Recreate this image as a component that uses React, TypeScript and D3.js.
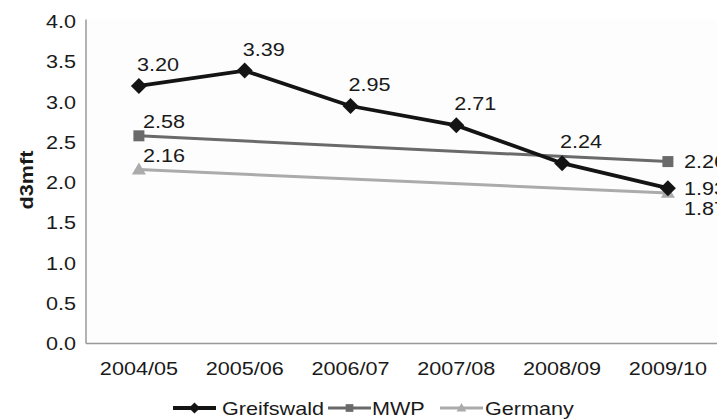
import React from "react";
import * as d3 from "d3";

const categories = ["2004/05", "2005/06", "2006/07", "2007/08", "2008/09", "2009/10"];
const greifswald = [3.2, 3.39, 2.95, 2.71, 2.24, 1.93];
const mwp = [2.58, null, null, null, null, 2.26];
const germany = [2.16, null, null, null, null, 1.87];
const yTicks = [0, 0.5, 1, 1.5, 2, 2.5, 3, 3.5, 4];
const seriesNames = ["Greifswald", "MWP", "Germany"];

const W = 717, H = 420;
const FONT = "'Liberation Sans', Arial, Helvetica, sans-serif";
const SX = 1.2;
const FS = 18;

function T({ x, y, anchor = "start", children, bold = false, rotate = 0 }: any) {
  const tr = rotate ? `translate(${x},${y}) rotate(${rotate}) scale(${SX},1)` : `translate(${x},${y}) scale(${SX},1)`;
  return (
    <text transform={tr} textAnchor={anchor} fontFamily={FONT} fontSize={FS} fontWeight={bold ? "bold" : "normal"} fill="#1a1a1a">
      {children}
    </text>
  );
}

function Marker({ kind, x, y, color, k = 1 }: any) {
  if (kind === "diamond") {
    const s = 8 * k;
    return <path d={`M${x},${y - s}L${x + s},${y}L${x},${y + s}L${x - s},${y}Z`} fill={color} />;
  }
  if (kind === "square") {
    const s = 5.5 * k;
    return <rect x={x - s} y={y - s} width={2 * s} height={2 * s} fill={color} />;
  }
  const s = 7 * k;
  return <path d={`M${x},${y - s}L${x + s},${y + s * 0.7}L${x - s},${y + s * 0.7}Z`} fill={color} />;
}

export default function App() {
  const left = 86, top = 21.5, bottom = 343.5;
  const step = 105.8;
  const x = d3.scaleBand<string>().domain(categories).range([left, left + step * categories.length]);
  const cx = (c: string) => (x(c) as number) + x.bandwidth() / 2;
  const y = d3.scaleLinear().domain([0, 4]).range([bottom, top]);

  const series = [
    { name: seriesNames[0], values: greifswald, color: "#141414", width: 3.8, kind: "diamond" },
    { name: seriesNames[1], values: mwp, color: "#6a6a6a", width: 3, kind: "square" },
    { name: seriesNames[2], values: germany, color: "#ababab", width: 3, kind: "triangle" },
  ];

  const line = d3.line<any>().x((d) => cx(d.c)).y((d) => y(d.v));

  const last = series.map((s, i) => ({ i, cy: y(s.values[s.values.length - 1] as number) }));
  const sorted = [...last].sort((a, b) => a.cy - b.cy);
  const pos: number[] = [];
  sorted.forEach((d, k) => {
    let c = d.cy;
    if (k > 0 && c < pos[sorted[k - 1].i] + 20) c = pos[sorted[k - 1].i] + 20;
    pos[d.i] = c;
  });
  const lastX = cx(categories[categories.length - 1]);

  const legendItems = [
    { x0: 173, tx: 222 },
    { x0: 328, tx: 372 },
    { x0: 440, tx: 485 },
  ];

  return (
    <svg width={W} height={H} style={{ position: "absolute", left: 0, top: 0, background: "#fff" }}>
      <rect x={left} y={top - 2} width={W - left} height={bottom - top + 2} fill="#fdfdfd" />
      <line x1={left} x2={left} y1={top - 2} y2={bottom} stroke="#999" strokeWidth={1.5} />
      <line x1={left} x2={W} y1={bottom} y2={bottom} stroke="#999" strokeWidth={1.5} />
      {yTicks.map((t) => (
        <T key={t} x={76} y={y(t) + 6.5} anchor="end">{d3.format(".1f")(t)}</T>
      ))}
      {categories.map((c) => (
        <T key={c} x={cx(c)} y={375} anchor="middle">{c}</T>
      ))}
      <T x={33} y={180} anchor="middle" bold rotate={-90}>d3mft</T>

      {series.slice().reverse().map((s) => {
        const pts = s.values.map((v, i) => ({ c: categories[i], v })).filter((d) => d.v != null);
        return (
          <g key={s.name}>
            <path d={line(pts) as string} fill="none" stroke={s.color} strokeWidth={s.width} />
            {pts.map((d) => (
              <Marker key={d.c} kind={s.kind} x={cx(d.c)} y={y(d.v as number)} color={s.color} />
            ))}
          </g>
        );
      })}

      {series.map((s, si) => {
        const pts = s.values.map((v, i) => ({ c: categories[i], v, i })).filter((d) => d.v != null);
        return pts.map((d) => {
          const px = cx(d.c), py = y(d.v as number);
          const isLast = d.i === categories.length - 1;
          const txt = d3.format(".2f")(d.v as number);
          if (isLast) return <T key={s.name + d.c} x={lastX + 16} y={pos[si] + 6.5}>{txt}</T>;
          if (si === 0) return <T key={s.name + d.c} x={px - 2} y={py - 15}>{txt}</T>;
          return <T key={s.name + d.c} x={px + 4} y={py - 8}>{txt}</T>;
        });
      })}

      {series.map((s, i) => {
        const L = legendItems[i];
        return (
          <g key={s.name}>
            <line x1={L.x0} x2={L.x0 + 43} y1={408} y2={408} stroke={s.color} strokeWidth={s.width} />
            <Marker kind={s.kind} x={L.x0 + 21.5} y={408} color={s.color} k={0.7} />
            <T x={L.tx} y={414.5}>{s.name}</T>
          </g>
        );
      })}
    </svg>
  );
}
